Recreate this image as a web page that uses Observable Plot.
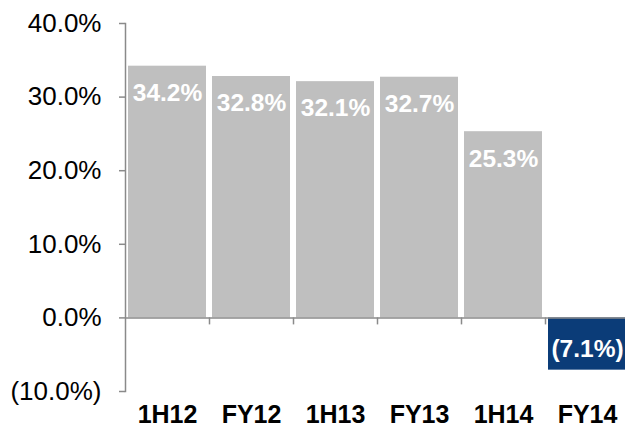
<!DOCTYPE html>
<html>
<head>
<meta charset="utf-8">
<script src="https://cdn.jsdelivr.net/npm/d3@7"></script>
<script src="https://cdn.jsdelivr.net/npm/@observablehq/plot@0.6"></script>
<style>
  html, body { margin: 0; padding: 0; background: #fff; }
  svg { font-family: Arial, "Liberation Sans", sans-serif; overflow: visible; }
</style>
</head>
<body>
<div id="chart"></div>
<script>
const categories = ["1H12", "FY12", "1H13", "FY13", "1H14", "FY14"];
const values = [34.2, 32.8, 32.1, 32.7, 25.3, -7.1];
const yTicks = [-10, 0, 10, 20, 30, 40];

const data = categories.map((c, i) => ({cat: c, v: values[i]}));
const fmt = d => d < 0 ? `(${(-d).toFixed(1)}%)` : `${d.toFixed(1)}%`;
const axisGray = "#8a8a8a";
const padInner = 6 / 84;

const boundaryTicks = (index, scales) => {
  const x = scales.x, y = scales.y;
  const step = x(categories[1]) - x(categories[0]);
  const y0 = y(0);
  const g = d3.create("svg:g");
  for (let i = 1; i < categories.length; i++) {
    const bx = Math.round(x(categories[i]) - padInner * step / 2) + 0.5;
    g.append("line").attr("x1", bx).attr("x2", bx).attr("y1", y0).attr("y2", y0 + 7)
      .attr("stroke", axisGray).attr("stroke-width", 1.5);
  }
  return g.node();
};

const chart = Plot.plot({
  width: 625,
  height: 429,
  marginLeft: 125,
  marginRight: 0,
  marginTop: 23,
  marginBottom: 38,
  x: {domain: categories, range: [125, 629], paddingInner: padInner, paddingOuter: padInner / 2},
  y: {domain: [-10, 40]},
  marks: [
    Plot.barY(data, {x: "cat", y: "v", fill: d => d.v < 0 ? "#0b3c78" : "#bfbfbf"}),
    Plot.ruleY([0], {stroke: axisGray, strokeWidth: 1.5}),
    Plot.frame({anchor: "left", stroke: axisGray, strokeWidth: 1.5}),
    boundaryTicks,
    Plot.axisY({ticks: yTicks, tickFormat: fmt, tickSize: 6, tickPadding: 18, fontSize: 26, stroke: axisGray, strokeWidth: 1.5, color: "#000", label: null}),
    Plot.axisX({tickSize: 0, tickPadding: 14, fontSize: 25, fontWeight: "bold", label: null, color: "#000"}),
    Plot.text(data.filter(d => d.v >= 0), {x: "cat", y: "v", text: d => fmt(d.v), dy: 27, fill: "white", fontSize: 24.5, fontWeight: "bold", lineAnchor: "middle"}),
    Plot.text(data.filter(d => d.v < 0), {x: "cat", y: "v", text: d => fmt(d.v), dy: -21, fill: "white", fontSize: 24.5, fontWeight: "bold", lineAnchor: "middle"})
  ]
});
document.getElementById("chart").appendChild(chart);
</script>
</body>
</html>
